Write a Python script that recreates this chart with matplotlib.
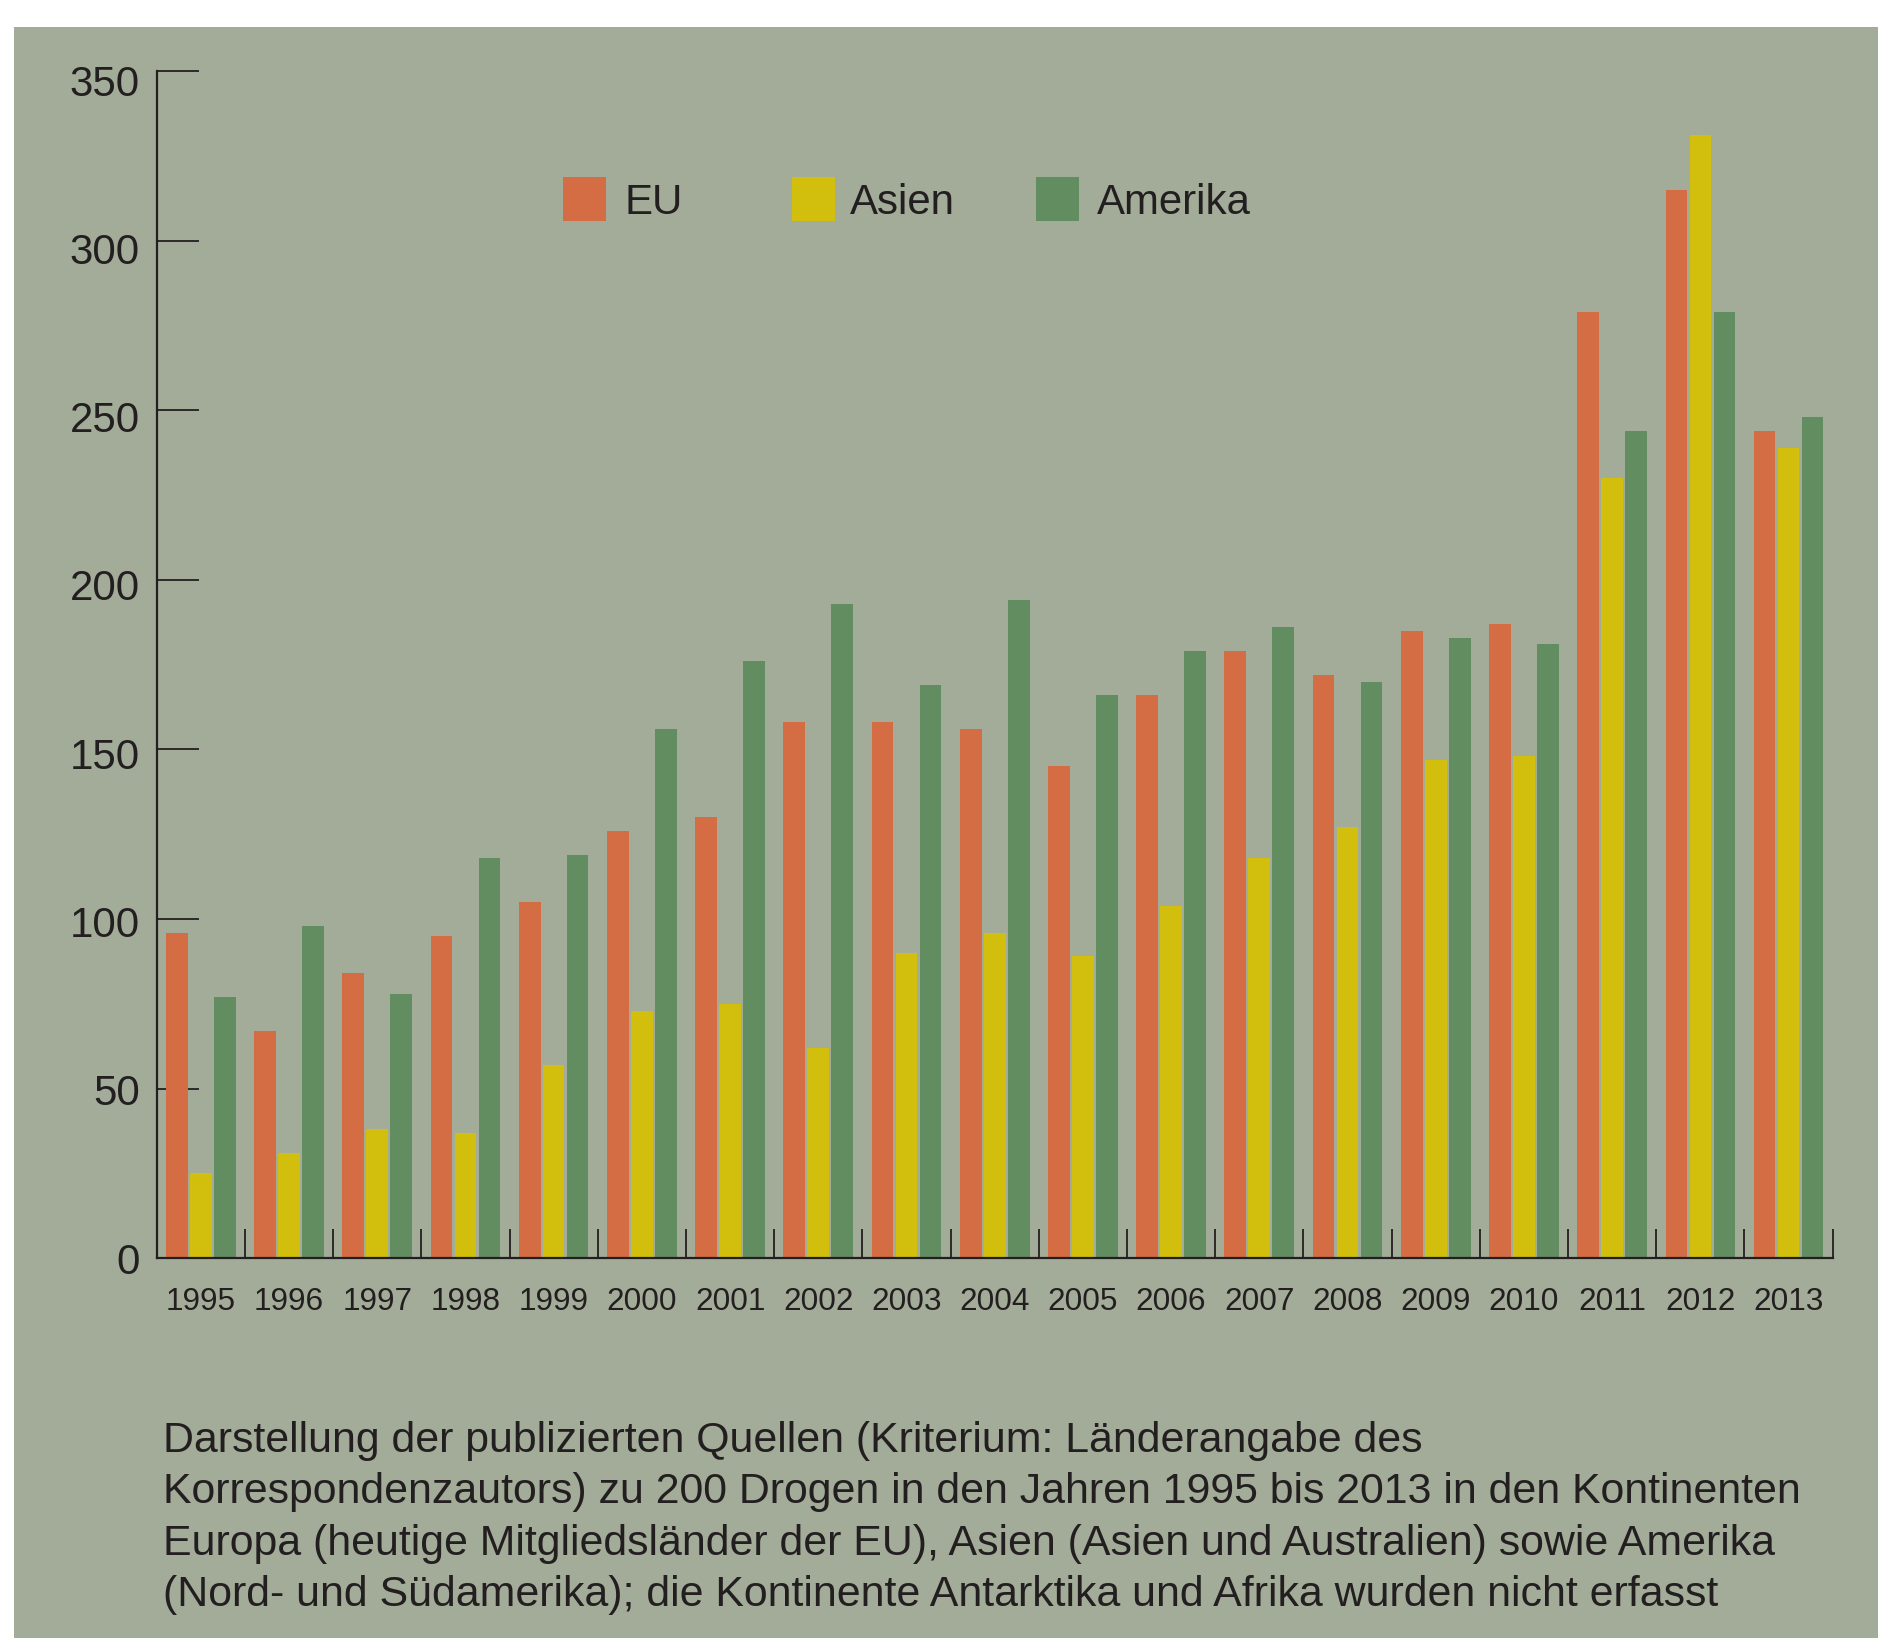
import matplotlib
matplotlib.use("Agg")
import matplotlib.pyplot as plt
import matplotlib.transforms as mtransforms
from matplotlib.patches import Rectangle
import numpy as np

plt.rcParams['font.family'] = ['Liberation Sans', 'DejaVu Sans']

# ---- data ----
years = ["1995", "1996", "1997", "1998", "1999", "2000", "2001", "2002", "2003", "2004",
         "2005", "2006", "2007", "2008", "2009", "2010", "2011", "2012", "2013"]
eu = [96, 67, 84, 95, 105, 126, 130, 158, 158, 156, 145, 166, 179, 172, 185, 187, 279, 315, 244]
asien = [25, 31, 38, 37, 57, 73, 75, 62, 90, 96, 89, 104, 118, 127, 147, 148, 230, 331, 239]
amerika = [77, 98, 78, 118, 119, 156, 176, 193, 169, 194, 166, 179, 186, 170, 183, 181, 244, 279, 248]
series_names = ["EU", "Asien", "Amerika"]
y_ticks = [0, 50, 100, 150, 200, 250, 300, 350]
caption_lines = [
    "Darstellung der publizierten Quellen (Kriterium: Länderangabe des",
    "Korrespondenzautors) zu 200 Drogen in den Jahren 1995 bis 2013 in den Kontinenten",
    "Europa (heutige Mitgliedsländer der EU), Asien (Asien und Australien) sowie Amerika",
    "(Nord- und Südamerika); die Kontinente Antarktika und Afrika wurden nicht erfasst",
]

# ---- style ----
W, H = 1878, 1638
DPI = 100
bg = "#A2AC98"
colors = ["#D46D44", "#D2BF0D", "#628D61"]
ink = "#231F20"
PX = 72.0 / DPI  # points per pixel

fig = plt.figure(figsize=(W / DPI, H / DPI), dpi=DPI)
fig.patch.set_facecolor("white")
# green panel
fig.add_artist(Rectangle((14 / W, 0), 1 - 14 / W, 1 - 27 / H, transform=fig.transFigure,
                         facecolor=bg, edgecolor="none", zorder=0))

ax = fig.add_axes([156.7 / W, 1 - 1258.3 / H, (1832.7 - 156.7) / W, (1258.3 - 71) / H])
ax.set_facecolor("none")

x = np.arange(len(years))
bw = 0.246
off = 0.272
for i, (vals, c) in enumerate(zip([eu, asien, amerika], colors)):
    ax.bar(x + (i - 1) * off, vals, width=bw, color=c, edgecolor="none", zorder=2)

ax.set_xlim(-0.5, len(years) - 0.5)
ax.set_ylim(0, 350)

for s in ["top", "right"]:
    ax.spines[s].set_visible(False)
for s in ["left", "bottom"]:
    ax.spines[s].set_color(ink)
    ax.spines[s].set_linewidth(1.6)
    ax.spines[s].set_zorder(3)

# y axis
ax.set_yticks(y_ticks)
ax.set_yticklabels([str(v) for v in y_ticks])
ax.tick_params(axis="y", direction="in", length=42 * PX, width=1.3, color=ink,
               pad=12, labelsize=42 * PX, labelcolor=ink)
for lab, v in zip(ax.get_yticklabels(), y_ticks):
    shift = mtransforms.ScaledTranslation(0, -(v / 350.0) * 9 / DPI, fig.dpi_scale_trans)
    lab.set_transform(lab.get_transform() + shift)

# x axis: boundary ticks (major) + centered labels (minor)
ax.set_xticks(np.arange(len(years) + 1) - 0.5)
ax.set_xticklabels([])
ax.tick_params(axis="x", which="major", direction="in", length=29 * PX, width=1.3, color=ink)
ax.set_xticks(x, minor=True)
ax.set_xticklabels(years, minor=True)
ax.tick_params(axis="x", which="minor", length=0, pad=20.5, labelsize=31.5 * PX, labelcolor=ink)

# legend (manual)
leg_patch_x = [563, 792, 1036]
leg_text_x = [625, 850, 1097]
for name, c, px_, tx in zip(series_names, colors, leg_patch_x, leg_text_x):
    fig.add_artist(Rectangle((px_ / W, 1 - 220.5 / H), 43 / W, 43 / H, transform=fig.transFigure,
                             facecolor=c, edgecolor="none", zorder=4))
    fig.text(tx / W, 1 - 214.5 / H, name, fontsize=42 * PX, color=ink, ha="left", va="baseline")

# caption
for i, line in enumerate(caption_lines):
    fig.text(162.7 / W, 1 - (1451.7 + i * 51.5) / H, line, fontsize=42.9 * PX, color=ink,
             ha="left", va="baseline")

fig.savefig("out.png", dpi=DPI, facecolor=fig.get_facecolor())
